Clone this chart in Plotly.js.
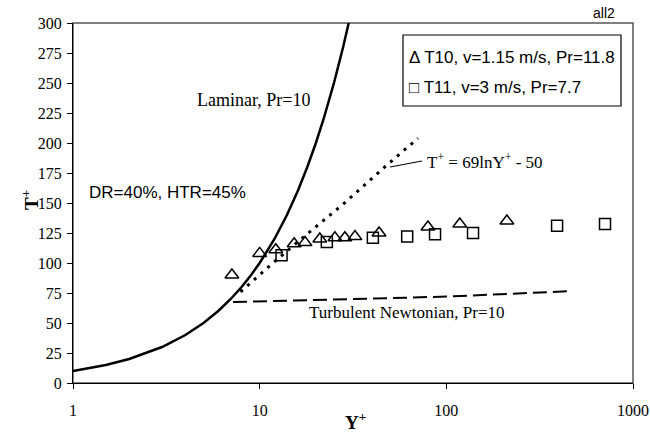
<!DOCTYPE html>
<html>
<head>
<meta charset="utf-8">
<script src="https://cdn.plot.ly/plotly-3.0.1.min.js"></script>
<style>html,body{margin:0;padding:0;background:#fff;}#chart{width:650px;height:434px;}</style>
</head>
<body>
<div id="chart"></div>
<script>
// Laminar, Pr=10
const laminarY = [1, 1.5, 2, 3, 4, 5, 6, 7, 8, 9, 10, 12, 14, 16, 18, 20, 22, 25, 28, 30.5];
const laminarT = [10, 15, 20, 30, 40, 50, 60, 70, 80, 90, 100, 120, 140, 160, 180, 200, 220, 250, 280, 305];
// Turbulent Newtonian, Pr=10
const turbY = [7.2, 15, 30, 60, 120, 250, 460];
const turbT = [67.5, 68.5, 69.5, 71, 72.5, 74.5, 76.5];
// T+ = 69lnY+ - 50 (dotted)
const logY = [7.9, 11, 16.4, 28, 46, 70.5];
const logT = [76, 96, 119, 149, 179, 204];
// T10, v=1.15 m/s, Pr=11.8
const t10Y = [7.1, 10.0, 12.2, 15.3, 17.5, 21.0, 25.3, 28.6, 32.4, 43.6, 79.7, 118, 211];
const t10T = [90, 108, 111, 116, 117, 120, 121, 121, 122, 125, 130, 132.5, 135];
// T11, v=3 m/s, Pr=7.7
const t11Y = [13.1, 22.9, 40.4, 61.7, 87, 139, 392, 708];
const t11T = [106.5, 117.5, 121, 122, 124, 125, 131, 132.5];

const xTicks = [1, 10, 100, 1000];
const xTickText = ["1", "10", "100", "1000"];

const serif = "Liberation Serif, Times New Roman, serif";
const sans = "Liberation Sans, Arial, sans-serif";

const traces = [
  {x: laminarY, y: laminarT, mode: "lines", line: {color: "#000", width: 2.5}, hoverinfo: "skip"},
  {x: turbY, y: turbT, mode: "lines", line: {color: "#000", width: 2, dash: "14px,6px"}, hoverinfo: "skip"},
  {x: logY, y: logT, mode: "lines", line: {color: "#000", width: 3, dash: "3px,6px"}, hoverinfo: "skip"},
  {x: t10Y, y: t10T, mode: "markers", marker: {symbol: "triangle-up-open", size: 12, color: "#000", line: {width: 1.5, color: "#000"}}},
  {x: t11Y, y: t11T, mode: "markers", marker: {symbol: "square-open", size: 11, color: "#000", line: {width: 1.5, color: "#000"}}}
];

function px(x) { return (x - 73) / 560; }
function py(y) { return (383 - y) / 360; }

const layout = {
  width: 650, height: 434,
  margin: {l: 73, r: 17, t: 23, b: 51, pad: 0},
  paper_bgcolor: "#fff", plot_bgcolor: "#fff",
  showlegend: false,
  font: {family: serif, color: "#000", size: 16},
  xaxis: {
    type: "log", range: [0, 3],
    tickvals: xTicks, ticktext: xTickText,
    showgrid: false, zeroline: false,
    showline: true, linecolor: "#000", linewidth: 1,
    ticks: "outside", ticklen: 5, tickcolor: "#000",
    ticklabelstandoff: 8,
    tickfont: {family: serif, size: 16, color: "#000"}
  },
  yaxis: {
    range: [0, 300], dtick: 25, tick0: 0,
    showgrid: false, zeroline: false,
    showline: true, linecolor: "#000", linewidth: 1,
    ticks: "outside", ticklen: 5, tickcolor: "#000",
    ticklabelstandoff: 2,
    tickfont: {family: serif, size: 16, color: "#000"}
  },
  shapes: [
    {type: "rect", xref: "paper", yref: "paper", x0: 0, x1: 1, y0: 0, y1: 1, line: {color: "#555", width: 1.5}, layer: "below"},
    {type: "rect", xref: "paper", yref: "paper", x0: px(403), x1: px(621), y0: py(106), y1: py(35), line: {color: "#000", width: 1.2}, fillcolor: "#fff"},
    {type: "line", xref: "paper", yref: "paper", x0: px(390), y0: py(167), x1: px(422), y1: py(161), line: {color: "#000", width: 1.2}}
  ],
  annotations: [
    {xref: "paper", yref: "paper", x: px(355), y: py(421), text: "<b>Y<sup>+</sup></b>", showarrow: false, font: {family: serif, size: 19, color: "#000"}, xanchor: "center", yanchor: "middle"},
    {xref: "paper", yref: "paper", x: px(30), y: py(200), text: "<b>T<sup>+</sup></b>", showarrow: false, textangle: -90, font: {family: serif, size: 19, color: "#000"}, xanchor: "center", yanchor: "middle"},
    {xref: "paper", yref: "paper", x: px(253), y: py(100), text: "Laminar, Pr=10", showarrow: false, font: {family: serif, size: 18, color: "#000"}, xanchor: "center", yanchor: "middle"},
    {xref: "paper", yref: "paper", x: px(167), y: py(192), text: "DR=40%, HTR=45%", showarrow: false, font: {family: sans, size: 17, color: "#000"}, xanchor: "center", yanchor: "middle"},
    {xref: "paper", yref: "paper", x: px(406), y: py(312), text: "Turbulent Newtonian, Pr=10", showarrow: false, font: {family: serif, size: 17, color: "#000"}, xanchor: "center", yanchor: "middle"},
    {xref: "paper", yref: "paper", x: px(425), y: py(161), text: "T<sup>+</sup> = 69lnY<sup>+</sup> - 50", showarrow: false, font: {family: serif, size: 17, color: "#000"}, xanchor: "left", yanchor: "middle"},
    {xref: "paper", yref: "paper", x: px(617), y: py(13), text: "all2", showarrow: false, font: {family: sans, size: 14, color: "#000"}, xanchor: "right", yanchor: "middle"},
    {xref: "paper", yref: "paper", x: px(407), y: py(58), text: "Δ T10, v=1.15 m/s, Pr=11.8", showarrow: false, font: {family: sans, size: 17, color: "#000"}, xanchor: "left", yanchor: "middle"},
    {xref: "paper", yref: "paper", x: px(407), y: py(87), text: "□ T11, v=3 m/s, Pr=7.7", showarrow: false, font: {family: sans, size: 17, color: "#000"}, xanchor: "left", yanchor: "middle"}
  ]
};

Plotly.newPlot("chart", traces, layout, {displayModeBar: false, staticPlot: true});
</script>
</body>
</html>
